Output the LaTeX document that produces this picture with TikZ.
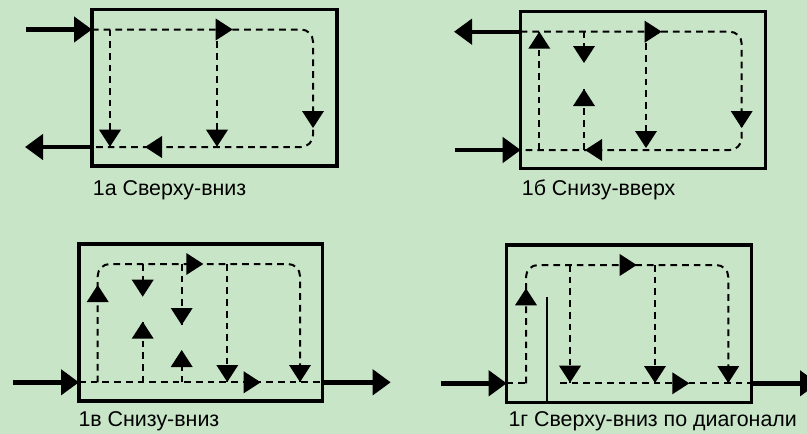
\documentclass[tikz,border=0pt]{standalone}
\usepackage{fontspec}
\setmainfont{Liberation Sans}
\usetikzlibrary{arrows.meta}
\definecolor{bg}{RGB}{201,229,200}
\tikzset{
  boxline/.style={line width=3.3pt},
  pipe/.style={line width=4.4pt,-{Triangle[length=18pt,width=25pt]}},
  flow/.style={line width=2pt,dash pattern=on 6.7pt off 5pt},
  flowr/.style={flow,rounded corners=12pt},
  wall/.style={line width=2pt},
  ah/.pic={\fill (0,0) -- (-17,11) -- (-17,-11) -- cycle;},
  lbl/.style={anchor=base west,inner sep=0pt,font=\fontsize{21.4}{24}\selectfont}
}
\begin{document}
\begin{tikzpicture}[x=1pt,y=-1pt]
\fill[bg] (0,0) rectangle (807,434);
\useasboundingbox (0,0) rectangle (807,434);

% ---------- 1a ----------
\draw[boxline] (92,9.5) rectangle (337,166);
\draw[pipe] (26,29.5) -- (92,29.5);
\draw[pipe] (92,147) -- (25,147);
\draw[flowr] (92,29.5) -- (313,29.5) -- (313,147) -- (92,147);
\draw[flow] (110,29.5) -- (110,147);
\draw[flow] (217,29.5) -- (217,147);
\pic at (232.7,29.5) {ah};
\pic[rotate=-90] at (313,128) {ah};
\pic[rotate=-90] at (110,146.7) {ah};
\pic[rotate=-90] at (217,146.7) {ah};
\pic[rotate=180] at (145,147) {ah};
\node[lbl] (la) at (92.7,195) {1а Сверху-вниз};

% ---------- 1b ----------
\draw[boxline] (520.7,11.7) rectangle (765.7,168.3);
\draw[pipe] (520.7,31.7) -- (454,31.7);
\draw[pipe] (455,150) -- (520.7,150);
\draw[flowr] (520.7,31.7) -- (741.7,31.7) -- (741.7,150) -- (520.7,150);
\draw[flow] (539.3,150) -- (539.3,31.7);
\draw[flow] (584,31.7) -- (584,63);
\draw[flow] (584,150) -- (584,89);
\draw[flow] (646,31.7) -- (646,150);
\pic[rotate=90] at (539.3,31.7) {ah};
\pic[rotate=-90] at (584,63) {ah};
\pic[rotate=90] at (584,89) {ah};
\pic[rotate=-90] at (646,148) {ah};
\pic[rotate=-90] at (741.7,128) {ah};
\pic at (661.7,31.7) {ah};
\pic[rotate=180] at (585,150) {ah};
\node[lbl] (lb) at (521.7,195) {1б Снизу-вверх};

% ---------- 1v ----------
\draw[boxline] (79,244) rectangle (322.7,401);
\draw[pipe] (13,382.3) -- (79,382.3);
\draw[pipe] (322.7,382.3) -- (390.7,382.3);
\draw[flow] (79,382.3) -- (322.7,382.3);
\draw[flowr] (97.7,382.3) -- (97.7,264) -- (300,264) -- (300,382.3);
\draw[flow] (142.7,264) -- (142.7,296.7);
\draw[flow] (142.7,382.3) -- (142.7,321.7);
\draw[flow] (181.7,264) -- (181.7,325);
\draw[flow] (181.7,382.3) -- (181.7,350);
\draw[flow] (227.3,264) -- (227.3,382.3);
\pic[rotate=90] at (97.7,285) {ah};
\pic[rotate=-90] at (142.7,296.7) {ah};
\pic[rotate=90] at (142.7,321.7) {ah};
\pic[rotate=-90] at (181.7,325) {ah};
\pic[rotate=90] at (181.7,350) {ah};
\pic[rotate=-90] at (227.3,382) {ah};
\pic[rotate=-90] at (300,382) {ah};
\pic at (203.3,264) {ah};
\pic at (260.7,382.3) {ah};
\node[lbl] (lc) at (78.3,426.7) {1в Снизу-вниз};

% ---------- 1g ----------
\draw[boxline] (506.7,245) rectangle (751.7,402.3);
\draw[pipe] (440.7,383.3) -- (506.7,383.3);
\draw[pipe] (751.7,383.3) -- (818,383.3);
\draw[flow] (506.7,383.3) -- (526,383.3);
\draw[flowr] (526,383.3) -- (526,265) -- (728.3,265) -- (728.3,383.3);
\draw[wall] (547.3,297.3) -- (547.3,402.3);
\draw[flow] (560,383.3) -- (751.7,383.3);
\draw[flow] (570,265) -- (570,383.3);
\draw[flow] (655,265) -- (655,383.3);
\pic[rotate=90] at (526,288.3) {ah};
\pic at (636.7,265) {ah};
\pic[rotate=-90] at (570,382.7) {ah};
\pic[rotate=-90] at (655,383) {ah};
\pic[rotate=-90] at (728.3,383) {ah};
\pic at (689.3,383.3) {ah};
\node[lbl] (ld) at (508.3,426.7) {1г Сверху-вниз по диагонали};
\end{tikzpicture}
\end{document}
